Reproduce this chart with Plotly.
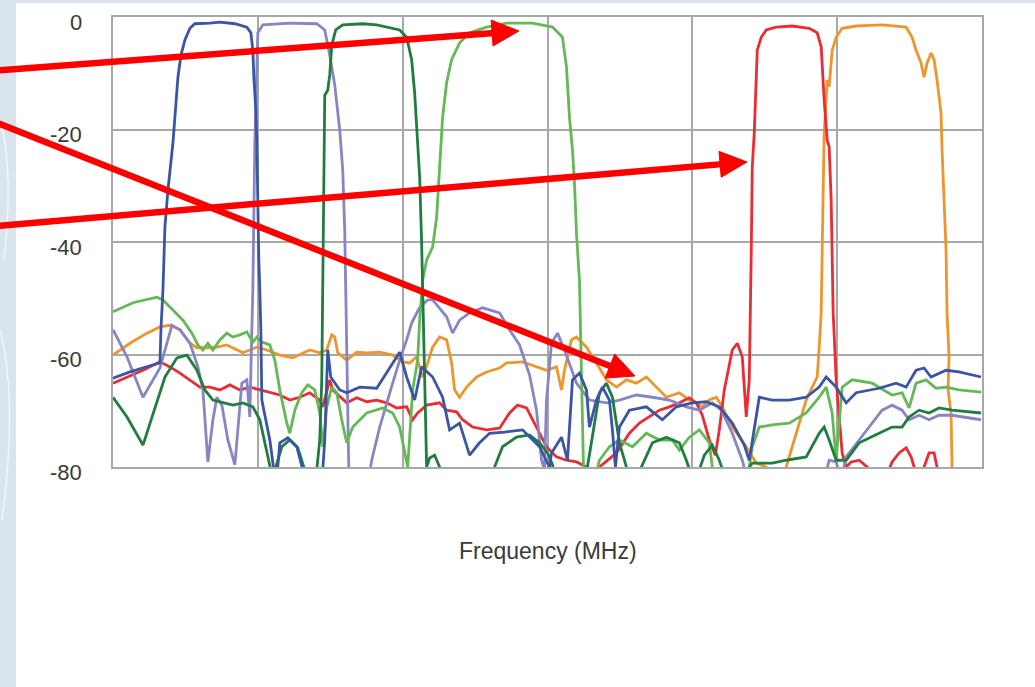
import plotly.graph_objects as go

# ---------------- data (frequency in MHz, response in dB) ----------------
blue = [(400,-64.2),(434,-63.1),(474,-62.0),(494,-61.5),(496,-55.6),(500,-48.5),(504,-37.3),(510,-30.8),(520,-22.4),(526,-14.8),
        (530,-10.7),(536,-6.8),(544,-4.1),(554,-2.0),(564,-1.2),(594,-1.1),(614,-0.9),(644,-1.2),(668,-1.8),(676,-2.8),
        (680,-5.9),(682,-10.7),(686,-16.5),(688,-22.4),(690,-34.3),(692,-43.2),(694,-48.5),(696,-55.6),(698,-68.1),(706,-71.6),
        (714,-75.2),(722,-80.5),(728,-82.0),(734,-75.7),(750,-74.8),(768,-76.4),(780,-80.5),(798,-83.2),(818,-83.2),(824,-75.2),
        (828,-64.5),(830,-59.2),(836,-64.0),(854,-66.3),(868,-66.8),(894,-65.8),(928,-66.0),(948,-63.3),(974,-59.6),(988,-64.0),
        (1004,-68.1),(1018,-62.2),(1040,-64.0),(1060,-67.6),(1074,-73.4),(1094,-72.2),(1114,-77.9),(1134,-75.7),(1154,-74.0),(1184,-73.8),
        (1220,-73.4),(1254,-76.4),(1274,-80.0),(1278,-77.5),(1298,-74.7),(1310,-78.8),(1320,-64.5),(1334,-63.3),(1348,-66.3),(1354,-72.9),
        (1368,-68.1),(1380,-65.8),(1394,-68.1),(1400,-73.4),(1406,-80.0),(1414,-72.9),(1434,-69.9),(1468,-69.3),(1500,-71.6),(1528,-69.3),
        (1560,-68.6),(1588,-68.4),(1614,-69.3),(1640,-72.2),(1664,-76.1),(1674,-78.8),(1684,-73.4),(1694,-67.6),(1720,-68.1),(1754,-68.1),
        (1788,-67.6),(1814,-65.8),(1828,-64.0),(1848,-65.8),(1868,-68.6),(1888,-66.8),(1934,-66.0),(1968,-65.1),(1988,-65.8),(2008,-62.8),
        (2024,-62.4),(2038,-64.0),(2068,-62.8),(2094,-63.1),(2138,-64.0)]

lavender = [(400,-55.6),(428,-60.4),(460,-67.6),(480,-64.5),(494,-62.4),(518,-54.8),(534,-55.6),(554,-58.0),(570,-62.2),(580,-66.3),
            (590,-79.1),(600,-71.6),(608,-67.6),(618,-69.0),(630,-75.2),(644,-79.6),(658,-65.1),(668,-64.5),(674,-71.1),(678,-55.6),
            (680,-48.5),(684,-22.4),(688,-7.6),(690,-2.8),(700,-1.4),(754,-1.1),(808,-1.2),(824,-2.3),(834,-6.8),(844,-12.1),
            (854,-20.1),(860,-27.2),(864,-37.9),(866,-50.3),(868,-64.5),(872,-80.0),(878,-83.2),(910,-83.2),(918,-78.8),(934,-72.9),
            (960,-65.1),(974,-61.0),(988,-57.4),(998,-54.4),(1014,-51.6),(1030,-50.3),(1040,-50.3),(1068,-53.3),(1080,-56.2),(1094,-53.9),
            (1114,-52.6),(1140,-51.7),(1174,-52.6),(1194,-55.6),(1214,-58.3),(1234,-63.6),(1248,-69.9),(1258,-78.8),(1264,-80.5),(1268,-68.1),
            (1278,-58.0),(1290,-56.2),(1304,-59.2),(1328,-65.1),(1354,-68.1),(1388,-68.6),(1414,-68.1),(1448,-67.2),(1480,-67.6),(1514,-68.1),
            (1548,-69.3),(1574,-69.9),(1600,-68.6),(1618,-69.9),(1640,-74.0),(1660,-78.8),(1670,-82.3),(1824,-82.3),(1834,-78.8),(1848,-79.1),
            (1858,-82.3),(1868,-78.2),(1894,-75.2),(1920,-72.2),(1940,-69.9),(1960,-69.0),(1980,-69.9),(1994,-71.6),(2014,-70.8),(2034,-71.6),
            (2054,-70.8),(2080,-70.8),(2138,-71.6)]

dark_green = [(400,-67.6),(428,-71.1),(460,-76.1),(480,-70.4),(504,-64.0),(528,-60.6),(548,-60.1),(568,-62.8),(584,-66.3),(600,-68.1),
              (620,-68.6),(640,-69.0),(660,-68.6),(680,-69.3),(694,-71.6),(710,-77.9),(718,-81.4),(726,-80.0),(738,-76.4),(754,-75.2),
              (770,-76.6),(782,-80.0),(794,-82.3),(806,-82.3),(814,-75.2),(818,-64.5),(820,-48.5),(822,-23.6),(824,-13.9),(830,-13.0),
              (834,-10.3),(838,-5.0),(846,-2.3),(860,-1.4),(900,-1.2),(928,-1.4),(974,-2.3),(988,-3.6),(998,-7.6),(1004,-13.5),(1010,-22.4),
              (1014,-28.4),(1018,-40.2),(1020,-48.5),(1024,-64.5),(1028,-80.0),(1034,-78.4),(1044,-77.9),(1054,-80.0),(1064,-82.0),(1154,-82.0),
              (1164,-80.0),(1180,-76.4),(1208,-74.7),(1234,-74.3),(1254,-75.7),(1270,-77.5),(1280,-79.6),(1286,-82.0),(1334,-82.0),(1350,-80.0),
              (1358,-75.7),(1374,-66.8),(1388,-65.1),(1400,-67.6),(1414,-75.7),(1428,-80.0),(1438,-82.0),(1450,-82.0),(1458,-80.0),(1480,-75.7),
              (1508,-74.7),(1534,-75.7),(1548,-78.8),(1558,-81.4),(1574,-80.5),(1584,-77.9),(1600,-76.1),(1614,-78.8),(1624,-81.4),(1664,-81.4),
              (1680,-79.3),(1720,-79.3),(1748,-78.8),(1788,-78.2),(1814,-74.0),(1824,-72.9),(1834,-75.2),(1848,-78.8),(1868,-78.8),(1894,-75.7),
              (1934,-74.0),(1960,-72.9),(1980,-72.9),(1994,-71.1),(2014,-69.9),(2034,-70.4),(2054,-69.5),(2080,-69.9),(2138,-70.4)]

light_green = [(400,-52.4),(440,-50.8),(488,-49.8),(500,-50.3),(520,-52.1),(540,-53.9),(558,-56.2),(570,-58.3),(580,-59.2),(590,-58.0),
               (600,-59.2),(614,-57.4),(628,-56.2),(640,-56.9),(654,-56.5),(668,-56.0),(680,-57.8),(688,-56.9),(698,-57.8),(714,-58.3),
               (724,-61.0),(734,-66.3),(748,-72.2),(754,-74.0),(764,-69.9),(778,-66.8),(790,-65.4),(804,-66.3),(814,-70.4),(820,-76.4),
               (824,-73.4),(828,-69.3),(838,-65.8),(848,-66.8),(858,-71.6),(868,-75.7),(880,-72.9),(908,-70.4),(940,-69.5),(960,-70.4),
               (974,-72.9),(984,-77.5),(990,-80.0),(994,-74.7),(1000,-66.3),(1010,-61.0),(1014,-53.9),(1020,-46.8),(1028,-43.2),(1040,-40.9),
               (1048,-35.6),(1054,-26.7),(1060,-17.8),(1068,-11.7),(1078,-7.6),(1094,-4.6),(1114,-2.8),(1148,-1.8),(1188,-1.1),(1240,-1.1),
               (1280,-1.8),(1300,-3.6),(1308,-8.9),(1314,-17.8),(1320,-23.6),(1324,-29.5),(1328,-38.4),(1334,-46.8),(1338,-64.5),(1342,-80.0),
               (1346,-82.3),(1364,-82.3),(1374,-78.8),(1394,-76.4),(1414,-75.2),(1440,-76.4),(1468,-74.0),(1494,-75.2),(1520,-75.2),(1534,-77.0),
               (1554,-74.7),(1574,-73.4),(1594,-75.7),(1600,-80.0),(1610,-82.3),(1670,-82.3),(1680,-76.4),(1694,-72.9),(1720,-72.5),(1754,-72.2),
               (1788,-70.4),(1814,-67.6),(1828,-65.8),(1840,-70.4),(1848,-78.8),(1854,-71.6),(1860,-65.8),(1880,-64.5),(1920,-65.1),(1960,-67.2),
               (1980,-66.8),(1994,-69.5),(2008,-65.1),(2028,-64.5),(2048,-66.0),(2068,-65.8),(2094,-66.3),(2138,-66.7)]

red = [(400,-65.1),(428,-64.0),(460,-62.8),(494,-61.3),(514,-62.2),(534,-63.3),(554,-64.5),(574,-65.8),(594,-65.8),(614,-66.3),
       (634,-65.4),(654,-66.3),(674,-65.8),(694,-66.3),(714,-66.8),(734,-67.2),(754,-68.1),(774,-67.6),(794,-66.8),(814,-68.1),
       (820,-69.3),(834,-64.5),(840,-66.3),(868,-68.6),(888,-67.7),(908,-68.4),(928,-68.1),(948,-68.6),(968,-69.5),(988,-69.3),
       (1000,-71.6),(1010,-70.4),(1028,-69.0),(1054,-68.6),(1068,-69.9),(1088,-70.2),(1100,-71.6),(1120,-72.9),(1148,-73.4),(1174,-73.1),
       (1194,-70.4),(1210,-69.0),(1228,-69.5),(1240,-71.6),(1254,-74.0),(1268,-76.4),(1288,-78.2),(1308,-78.8),(1328,-79.1),(1348,-80.0),
       (1360,-81.4),(1374,-80.0),(1408,-77.5),(1434,-74.0),(1454,-72.2),(1474,-71.1),(1494,-69.9),(1514,-69.3),(1534,-68.6),(1554,-67.7),
       (1568,-68.6),(1580,-70.8),(1594,-75.2),(1606,-77.9),(1614,-73.4),(1624,-66.3),(1640,-59.2),(1650,-58.0),(1660,-60.4),(1668,-71.1),
       (1674,-64.5),(1678,-41.4),(1680,-26.7),(1684,-20.6),(1688,-11.7),(1690,-5.9),(1698,-3.6),(1708,-2.3),(1728,-1.8),(1760,-1.6),
       (1794,-2.0),(1810,-2.8),(1818,-5.3),(1820,-8.9),(1824,-14.8),(1830,-21.9),(1834,-23.1),(1838,-32.5),(1840,-41.4),(1842,-52.6),
       (1848,-64.5),(1854,-70.4),(1860,-77.5),(1868,-80.0),(1878,-79.1),(1894,-78.8),(1910,-80.0),(1924,-82.3),(1950,-81.4),(1960,-79.1),
       (1974,-77.5),(1988,-76.6),(1998,-78.2),(2004,-80.0),(2014,-82.0),(2024,-80.0),(2034,-77.5),(2044,-77.5),(2050,-80.0),(2058,-82.3),
       (2138,-82.3)]

orange = [(400,-60.1),(434,-58.0),(468,-56.2),(494,-55.1),(514,-54.8),(534,-55.6),(554,-58.0),(568,-58.8),(588,-58.8),(608,-58.7),
          (628,-58.3),(648,-59.2),(660,-59.7),(674,-59.2),(688,-58.7),(708,-59.2),(734,-60.1),(760,-60.6),(794,-59.2),(814,-59.7),
          (828,-59.2),(838,-56.5),(844,-56.9),(850,-59.7),(868,-61.0),(888,-59.6),(908,-59.7),(934,-59.6),(960,-60.1),(980,-61.3),
          (994,-61.5),(1008,-60.4),(1020,-64.0),(1030,-61.5),(1040,-58.7),(1054,-56.9),(1068,-57.4),(1078,-61.5),(1084,-66.3),(1094,-67.6),
          (1108,-65.8),(1128,-64.0),(1148,-63.1),(1174,-62.4),(1188,-61.5),(1220,-61.3),(1248,-62.2),(1268,-62.8),(1288,-62.2),(1298,-66.3),
          (1304,-62.8),(1318,-57.4),(1328,-56.9),(1348,-58.7),(1368,-61.5),(1388,-64.5),(1408,-65.8),(1428,-64.5),(1448,-65.1),(1468,-64.0),
          (1488,-65.8),(1508,-67.6),(1534,-66.8),(1554,-68.1),(1568,-68.6),(1580,-69.3),(1594,-68.1),(1608,-67.6),(1620,-69.3),(1640,-72.9),
          (1668,-76.4),(1688,-79.3),(1708,-80.0),(1718,-82.3),(1734,-82.3),(1748,-80.0),(1760,-76.4),(1774,-72.2),(1788,-68.1),(1800,-65.8),
          (1810,-64.0),(1814,-58.7),(1818,-52.6),(1820,-41.4),(1822,-32.5),(1824,-20.6),(1828,-14.8),(1830,-11.2),(1834,-12.4),(1838,-8.9),
          (1840,-5.9),(1848,-3.6),(1860,-2.0),(1888,-1.6),(1940,-1.4),(1988,-1.8),(2000,-3.6),(2008,-5.9),(2018,-8.2),(2024,-10.7),
          (2030,-8.2),(2038,-6.4),(2044,-7.6),(2050,-11.2),(2058,-17.1),(2060,-23.6),(2064,-32.5),(2068,-41.4),(2070,-52.6),(2074,-60.4),
          (2072,-66.3),(2078,-70.4),(2080,-80.0),(2082,-82.3)]

y_ticks = [0, -20, -40, -60, -80]
y_tick_labels = ["0", "-20", "-40", "-60", "-80"]
x_title = "Frequency (MHz)"

# ---------------- figure ----------------
W, H = 1035, 687
ML, MR, MT, MB = 113, 53, 17, 220
PW, PH = W - ML - MR, H - MT - MB


def px(xp):
    return (xp - ML) / PW


def py(yp):
    return (H - MB - yp) / PH


fig = go.Figure()
series = [
    (orange, "#f0952c"),
    (red, "#ec2b33"),
    (lavender, "#8885c6"),
    (light_green, "#62b955"),
    (dark_green, "#1f7e3e"),
    (blue, "#3a55a6"),
]
for pts, col in series:
    fig.add_trace(go.Scatter(
        x=[p[0] for p in pts], y=[p[1] for p in pts], mode="lines",
        line=dict(color=col, width=2.8), hoverinfo="skip", showlegend=False))

grid = "#a8a8a8"
fig.update_xaxes(range=[400, 2140], tick0=400, dtick=290, showticklabels=False,
                 showgrid=True, gridcolor=grid, gridwidth=1.5, zeroline=False,
                 showline=True, mirror=True, linecolor=grid, linewidth=1.5, ticks="")
fig.update_yaxes(range=[-80, 0], tickvals=y_ticks, showticklabels=False,
                 showgrid=True, gridcolor=grid, gridwidth=1.5, zeroline=False,
                 showline=True, mirror=True, linecolor=grid, linewidth=1.5, ticks="")

font = "Liberation Sans, Arial, sans-serif"
annotations = []
for v, t in zip(y_ticks, y_tick_labels):
    annotations.append(dict(x=px(84), y=v, xref="paper", yref="y", text=t, showarrow=False,
                            xanchor="right", yanchor="middle", yshift=-5,
                            font=dict(family=font, size=22, color="#3a3a3a")))
annotations.append(dict(x=px(548), y=py(551), xref="paper", yref="paper", text=x_title,
                        showarrow=False, xanchor="center", yanchor="middle",
                        font=dict(family=font, size=23, color="#3a3a3a")))

shapes = [
    dict(type="rect", xref="paper", yref="paper", x0=px(16), x1=px(1040), y0=py(3), y1=py(692),
         fillcolor="white", line=dict(width=0), layer="below"),
]
# faint decorative swirls in the left background strip
for d in ["M {:.4f},{:.4f} Q {:.4f},{:.4f} {:.4f},{:.4f}".format(px(0), py(330), px(18), py(400), px(2), py(520)),
          "M {:.4f},{:.4f} Q {:.4f},{:.4f} {:.4f},{:.4f}".format(px(0), py(120), px(14), py(170), px(4), py(260))]:
    shapes.append(dict(type="path", xref="paper", yref="paper", path=d,
                       line=dict(color="rgba(255,255,255,0.8)", width=1.2), layer="below"))

# red annotation arrows (pixel geometry)
arrows = [((-10, 71), (519, 31)), ((-10, 226.5), (747, 162)), ((-10, 120), (635, 376))]
HL, HW = 27, 13
for (tx, ty), (hx, hy) in arrows:
    dx, dy = hx - tx, hy - ty
    n = (dx * dx + dy * dy) ** 0.5
    ux, uy = dx / n, dy / n
    bx, by = hx - HL * ux, hy - HL * uy
    shapes.append(dict(type="line", xref="paper", yref="paper", x0=px(tx), y0=py(ty),
                       x1=px(bx + 2 * ux), y1=py(by + 2 * uy), line=dict(color="#ff0000", width=6.5),
                       layer="above"))
    c1 = (bx - HW * uy, by + HW * ux)
    c2 = (bx + HW * uy, by - HW * ux)
    path = "M {:.5f},{:.5f} L {:.5f},{:.5f} L {:.5f},{:.5f} Z".format(
        px(hx), py(hy), px(c1[0]), py(c1[1]), px(c2[0]), py(c2[1]))
    shapes.append(dict(type="path", xref="paper", yref="paper", path=path,
                       fillcolor="#ff0000", line=dict(color="#ff0000", width=1), layer="above"))

fig.update_layout(width=W, height=H, margin=dict(l=ML, r=MR, t=MT, b=MB, pad=0),
                  paper_bgcolor="#d9e4ec", plot_bgcolor="white", showlegend=False,
                  annotations=annotations, shapes=shapes)

fig.write_html("out.html", config={"displayModeBar": False},
               post_script="document.body.style.margin='0';document.body.style.overflow='hidden';")
